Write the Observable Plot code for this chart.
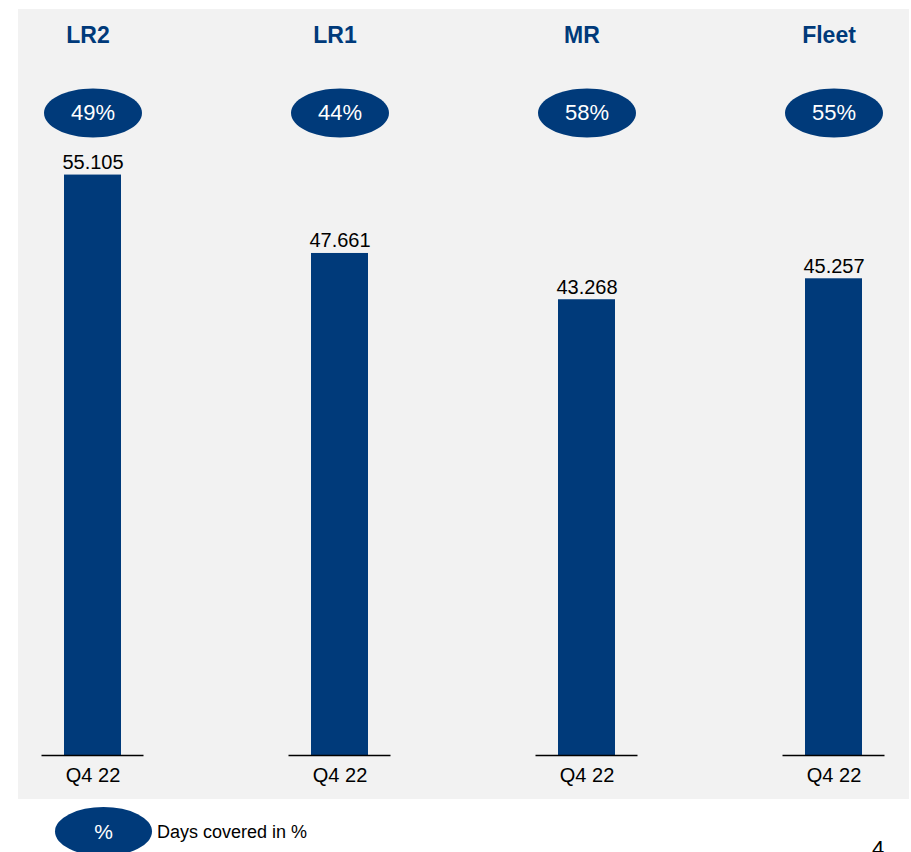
<!DOCTYPE html>
<html><head><meta charset="utf-8">
<script src="https://cdn.jsdelivr.net/npm/d3@7"></script>
<script src="https://cdn.jsdelivr.net/npm/@observablehq/plot@0.6"></script>
<style>
body{margin:0;background:#fff;font-family:"Liberation Sans",Arial,sans-serif;}
#wrap{position:relative;width:911px;height:852px;overflow:hidden;}
#panel{position:absolute;left:18px;top:9px;width:891px;height:790px;background:#f2f2f2;}
#chart{position:absolute;left:0;top:0;}
.legend-ell{position:absolute;left:55px;top:807px;width:97px;height:49px;border-radius:50%;background:#003a7a;color:#fff;font-size:21px;text-align:center;line-height:49px;}
.legend-txt{position:absolute;left:157px;top:823px;font-size:18px;line-height:18px;color:#000;white-space:nowrap;}
.page{position:absolute;left:872px;top:838px;font-size:22px;line-height:22px;color:#000;}
</style>
</head><body>
<div id="wrap">
  <div id="panel"></div>
  <div id="chart"></div>
  <div class="legend-ell">%</div>
  <div class="legend-txt">Days covered in %</div>
  <div class="page">4</div>
</div>
<script>
const categories = ["LR2", "LR1", "MR", "Fleet"];
const periods = ["Q4 22", "Q4 22", "Q4 22", "Q4 22"];
const values = [55105, 47661, 43268, 45257];
const coverage = [49, 44, 58, 55];

const data = categories.map((c, i) => ({category: c, period: periods[i], value: values[i], coverage: coverage[i]}));
const navy = "#003a7a";
const fmt = d3.formatLocale({decimal: ",", thousands: ".", grouping: [3], currency: ["", ""]}).format(",d");

const ellipse = {
  draw(ctx, size) {
    const r = Math.sqrt(size / Math.PI);
    const rx = 2 * r, ry = r, k = 0.5522847498;
    ctx.moveTo(rx, 0);
    ctx.bezierCurveTo(rx, k * ry, k * rx, ry, 0, ry);
    ctx.bezierCurveTo(-k * rx, ry, -rx, k * ry, -rx, 0);
    ctx.bezierCurveTo(-rx, -k * ry, -k * rx, -ry, 0, -ry);
    ctx.bezierCurveTo(k * rx, -ry, rx, -k * ry, rx, 0);
    ctx.closePath();
  }
};

const chart = Plot.plot({
  width: 911, height: 800,
  marginTop: 123, marginBottom: 45, marginLeft: 63, marginRight: 48,
  style: {background: "transparent", fontFamily: "Liberation Sans, Arial, sans-serif", overflow: "visible"},
  x: {type: "band", domain: categories, paddingInner: 0.77, paddingOuter: 0, align: 0.5},
  y: {domain: [0, 60000], axis: null},
  marks: [
    Plot.barY(data, {x: "category", y: "value", fill: navy}),
    Plot.tickY(data, {x: "category", y: 0, stroke: "#000", strokeWidth: 1.5, insetLeft: -22.5, insetRight: -22.5}),
    Plot.text(data, {x: "category", y: "value", text: d => fmt(d.value), lineAnchor: "bottom", dy: -6, fontSize: 20, fill: "#000"}),
    Plot.dot(data, {x: "category", frameAnchor: "top", dy: -10.5, r: 24.5, symbol: ellipse, fill: navy, stroke: null}),
    Plot.text(data, {x: "category", frameAnchor: "top", lineAnchor: "middle", dy: -10.2, text: d => d.coverage + "%", fill: "white", fontSize: 22}),
    Plot.text(data, {x: "category", frameAnchor: "top", lineAnchor: "middle", dy: -87.7, dx: -5, text: "category", fill: navy, fontSize: 23, fontWeight: "bold"}),
    Plot.axisX({tickSize: 0, tickPadding: 12, fontSize: 20, fill: "#000", tickFormat: d => periods[categories.indexOf(d)], label: null})
  ]
});
document.getElementById("chart").appendChild(chart);
</script>
</body></html>
